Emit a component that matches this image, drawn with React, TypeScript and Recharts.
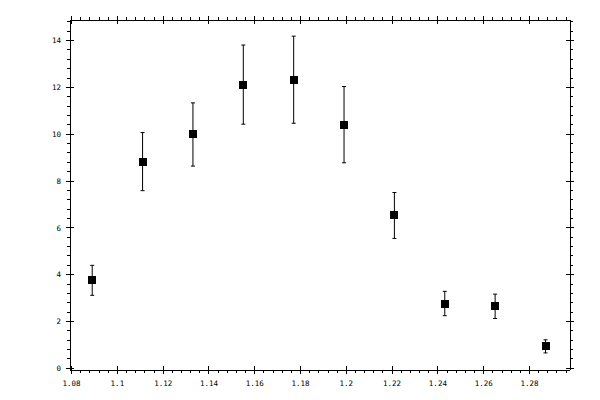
import { ScatterChart, Scatter, XAxis, YAxis, ErrorBar } from 'recharts';

// measured points: x position, value, symmetric error
const xValues = [1.089, 1.111, 1.133, 1.155, 1.177, 1.199, 1.221, 1.243, 1.265, 1.287];
const yValues = [3.76, 8.83, 9.99, 12.12, 12.33, 10.41, 6.53, 2.77, 2.65, 0.94];
const yErrors = [0.64, 1.24, 1.35, 1.69, 1.86, 1.63, 0.98, 0.52, 0.52, 0.28];

const xMajorTicks = [1.08, 1.1, 1.12, 1.14, 1.16, 1.18, 1.2, 1.22, 1.24, 1.26, 1.28];
const yMajorTicks = [0, 2, 4, 6, 8, 10, 12, 14];

const xDomain = [1.0793, 1.2977];
const yDomain = [-0.07, 14.88];

const data = xValues.map((x, i) => ({ x, y: yValues[i], err: yErrors[i] }));

// minor ticks: 5 steps per major interval, within the axis range
const withMinor = (majors: number[], max: number) => {
  const step = (majors[1] - majors[0]) / 5;
  const out: number[] = [];
  for (let i = 0; ; i++) {
    const v = +(majors[0] + i * step).toFixed(4);
    if (v > max) break;
    out.push(v);
  }
  return out;
};

const xTicks = withMinor(xMajorTicks, xDomain[1]);
const yTicks = withMinor(yMajorTicks, yDomain[1]);

const isMajor = (v: number, majors: number[]) => majors.some(m => Math.abs(m - v) < 1e-6);
const fmt = (v: number) => String(+v.toFixed(3));

const font = { fontFamily: '"DejaVu Sans Mono", monospace', fontSize: 7.5, fill: '#000' };

const BottomTick = ({ x, y, payload }: any) => {
  const major = isMajor(payload.value, xMajorTicks);
  return (
    <g>
      <line x1={x} x2={x} y1={major ? y - 4 : y} y2={major ? y + 4 : y + 3} stroke="#000" shapeRendering="crispEdges" />
      {major && (
        <text x={x} y={y + 16} textAnchor="middle" {...font}>
          {fmt(payload.value)}
        </text>
      )}
    </g>
  );
};

const TopTick = ({ x, y, payload }: any) => {
  const major = isMajor(payload.value, xMajorTicks);
  return <line x1={x} x2={x} y1={major ? y + 4 : y} y2={major ? y - 4 : y - 3} stroke="#000" shapeRendering="crispEdges" />;
};

const LeftTick = ({ x, y, payload }: any) => {
  const major = isMajor(payload.value, yMajorTicks);
  return (
    <g>
      <line y1={y} y2={y} x1={major ? x + 4 : x} x2={major ? x - 4 : x - 3} stroke="#000" shapeRendering="crispEdges" />
      {major && (
        <text x={x - 9} y={y + 2.7} textAnchor="end" {...font}>
          {fmt(payload.value)}
        </text>
      )}
    </g>
  );
};

const RightTick = ({ x, y, payload }: any) => {
  const major = isMajor(payload.value, yMajorTicks);
  return <line y1={y} y2={y} x1={major ? x - 4 : x} x2={major ? x + 4 : x + 3} stroke="#000" shapeRendering="crispEdges" />;
};

const SquareDot = ({ cx, cy }: any) => (
  <rect x={cx - 4} y={cy - 4} width={8} height={8} fill="#000" shapeRendering="crispEdges" />
);

const axisLine = { stroke: '#000', shapeRendering: 'crispEdges' };

export default function App() {
  return (
    <div style={{ position: 'absolute', left: 0, top: 0, width: 600, height: 400, background: '#fff' }}>
      <ScatterChart width={600} height={400} margin={{ top: 19, right: 29, bottom: 0, left: 0 }}>
        <XAxis
          xAxisId="bottom"
          type="number"
          dataKey="x"
          domain={xDomain}
          allowDataOverflow
          ticks={xTicks}
          interval={0}
          height={30}
          tickSize={0}
          tickMargin={0}
          tickLine={false}
          axisLine={axisLine}
          tick={<BottomTick />}
        />
        <XAxis
          xAxisId="top"
          orientation="top"
          type="number"
          dataKey="x"
          domain={xDomain}
          allowDataOverflow
          ticks={xTicks}
          interval={0}
          height={1}
          tickSize={0}
          tickMargin={0}
          tickLine={false}
          axisLine={axisLine}
          tick={<TopTick />}
        />
        <YAxis
          yAxisId="left"
          type="number"
          dataKey="y"
          domain={yDomain}
          allowDataOverflow
          ticks={yTicks}
          interval={0}
          width={70}
          tickSize={0}
          tickMargin={0}
          tickLine={false}
          axisLine={axisLine}
          tick={<LeftTick />}
        />
        <YAxis
          yAxisId="right"
          orientation="right"
          type="number"
          dataKey="y"
          domain={yDomain}
          allowDataOverflow
          ticks={yTicks}
          interval={0}
          width={1}
          tickSize={0}
          tickMargin={0}
          tickLine={false}
          axisLine={axisLine}
          tick={<RightTick />}
        />
        <Scatter
          data={data}
          xAxisId="bottom"
          yAxisId="left"
          shape={<SquareDot />}
          isAnimationActive={false}
        >
          <ErrorBar dataKey="err" direction="y" width={2} stroke="#000" strokeWidth={1} isAnimationActive={false} />
        </Scatter>
      </ScatterChart>
    </div>
  );
}
